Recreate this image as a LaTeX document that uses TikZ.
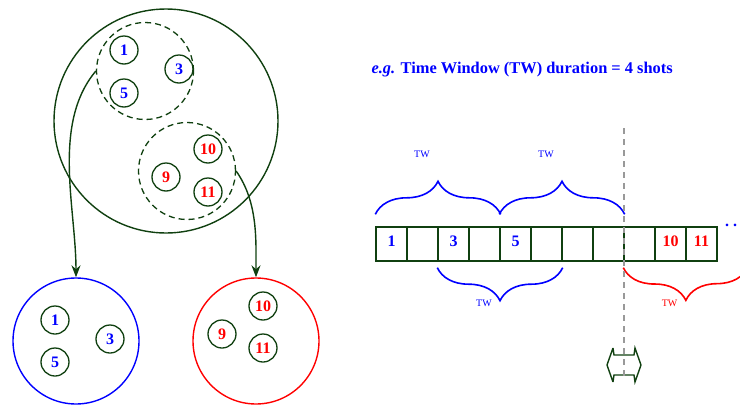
\documentclass[tikz,border=0pt]{standalone}
\usepackage{fontspec}
\setmainfont{Liberation Serif}
\usetikzlibrary{arrows.meta,decorations.pathreplacing}
\definecolor{shotgreen}{RGB}{16,64,16}

\tikzset{
  shot/.style={draw=shotgreen,circle,line width=1.3pt,minimum size=28pt,inner sep=0pt,
    font=\fontsize{16}{16}\selectfont\bfseries},
  cluster/.style={draw=shotgreen,circle,line width=1.3pt,dash pattern=on 6pt off 4pt,
    minimum size=97pt,inner sep=0pt},
  shotset/.style={circle,line width=1.4pt,minimum size=126pt,inner sep=0pt},
  cell/.style={draw=shotgreen,rectangle,line width=1.4pt,minimum width=31pt,
    minimum height=34pt,inner sep=0pt},
  num/.style={font=\fontsize{16}{16}\selectfont\bfseries,inner sep=0pt},
  twbrace/.style={decorate,decoration={brace,amplitude=33pt},line width=1.6pt},
  twlabel/.style={font=\fontsize{10}{10}\selectfont,inner sep=0pt},
  flow/.style={draw=shotgreen,line width=1.4pt,-{Stealth[length=12pt,width=9pt]}},
}

\begin{document}
\begin{tikzpicture}[x=1pt,y=-1pt]
		\useasboundingbox (0,0) rectangle (740,410);
		\coordinate (CutTop) at (624,128);
		\coordinate (CutBot) at (624,378);
		\coordinate (TWEnd)  at (748,267);

		% the whole scene with its two clusters
		\node[draw=shotgreen,circle,line width=1.4pt,minimum size=224pt] (scene) at (166,121) {};
		\node[cluster] (grpA) at (145,71) {};
		\node[cluster] (grpB) at (187,171) {};
		\foreach \n/\x/\y/\c in {1/124/50/blue,3/179/69/blue,5/124/93/blue,
		                          9/166/177/red,10/208/149/red,11/208/192/red}{%
			\node[shot,text=\c] (s\n) at (\x,\y) {\n};
		}

		% the clusters split out
		\node[shotset,draw=blue] (setA) at (76,341) {};
		\node[shotset,draw=red]  (setB) at (256,341) {};
		\foreach \n/\x/\y in {1/55/320,3/110/339,5/55/362}
			\node[shot,text=blue] (a\n) at (\x,\y) {\n};
		\foreach \n/\x/\y in {9/222/334,10/263/306,11/263/348}
			\node[shot,text=red] (b\n) at (\x,\y) {\n};

		\draw[flow] (grpA.west) to[out=-130,in=90,looseness=0.85] (setA.north);
		\draw[flow] (grpB.east) to[out=-55,in=90,looseness=0.9] (setB.north);

		% shot timeline
		\node[anchor=west,text=blue,font=\fontsize{16.4}{16}\selectfont\bfseries] (title)
			at (368,70) {\textit{e.g.} Time Window (TW) duration = 4 shots};
		\foreach \i in {1,...,11}
			\node[cell] (c\i) at ({360.5+31*\i},244) {};% one box per shot
		\foreach \i/\c in {1/blue,3/blue,5/blue,10/red,11/red}
			\node[num,text=\c] (n\i) at ([yshift=3pt]c\i.center) {\i};
		\node[anchor=base west,inner sep=0pt,text=blue,font=\fontsize{16}{16}\selectfont\bfseries]
			(more) at (725,226) {.\hspace{4pt}.};

		% sliding windows
		\draw[twbrace,blue] ([yshift=12pt]c1.north west) -- ([yshift=12pt]c4.north east)
			node[twlabel,midway,xshift=-16pt,yshift=60pt] (tw1) {TW};
		\draw[twbrace,blue] ([yshift=12pt]c5.north west) -- ([yshift=12pt]c8.north east)
			node[twlabel,midway,xshift=-16pt,yshift=60pt] (tw3) {TW};
		\draw[twbrace,blue] ([yshift=-6pt]c6.south east) -- ([yshift=-6pt]c3.south west)
			node[twlabel,midway,xshift=-16pt,yshift=-36pt] (tw2) {TW};
		\draw[twbrace,red] (TWEnd) -- ([yshift=-6pt]c9.south west)
			node[twlabel,midway,xshift=-16pt,yshift=-36pt,text=red] (tw4) {TW};

		% cut between the two clusters
		\draw[shotgreen,line width=1.4pt,shift={(624,365)}]
			(-11,-17) -- (-17,0) -- (-11,17)
			(-11,-17) -- (-10,-10) -- (10,-10) -- (11,-17) -- (17,0) -- (11,17)
			-- (10,10) -- (-10,10) -- (-11,17);
		\draw[gray!80,line width=1.3pt,dash pattern=on 6pt off 5pt] (CutTop) -- (CutBot);
	  \end{tikzpicture}
\end{document}
